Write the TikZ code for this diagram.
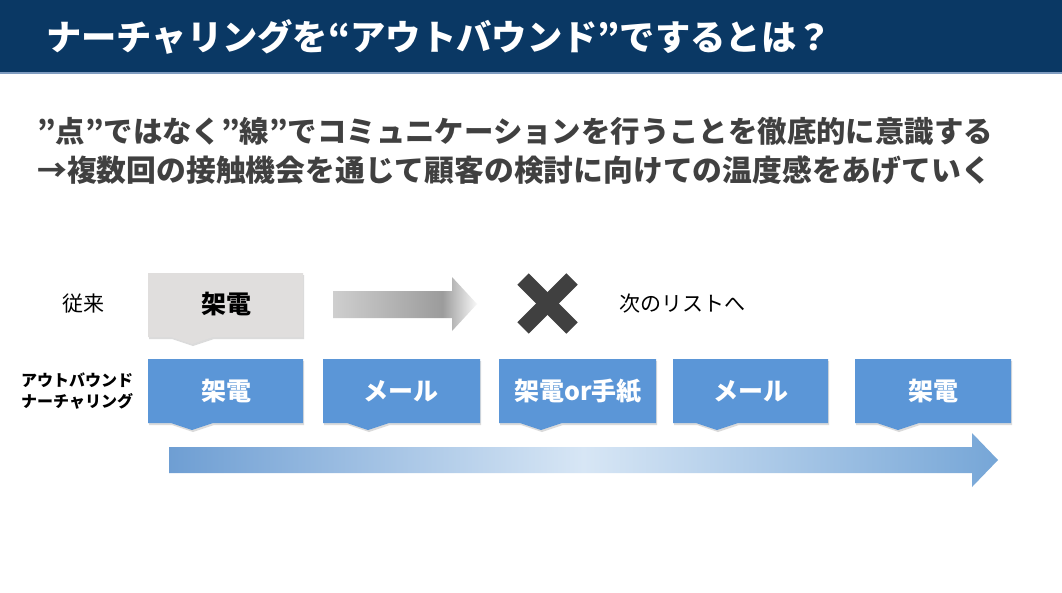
\documentclass[tikz,border=0pt]{standalone}
\usepackage{fontspec}
\setmainfont{Noto Sans CJK JP}
\usetikzlibrary{shadows}
\definecolor{navy}{HTML}{0A3864}
\definecolor{navyline}{HTML}{7F9CC0}
\definecolor{subgray}{HTML}{404040}
\definecolor{boxblue}{HTML}{5B96D7}
\definecolor{boxgray}{HTML}{E0DEDD}
\definecolor{xgray}{HTML}{404040}
\pgfdeclarehorizontalshading{grayarrowshade}{100bp}{color(0bp)=(gray!38); color(25bp)=(gray!38); color(63bp)=(gray!78); color(75bp)=(gray!5); color(100bp)=(gray!5)}
\definecolor{bA}{HTML}{6E9ED3}
\definecolor{bB}{HTML}{D7E6F5}
\definecolor{bC}{HTML}{76A6D7}
\pgfdeclarehorizontalshading{bluearrowshade}{100bp}{color(0bp)=(bA); color(25bp)=(bA); color(50bp)=(bB); color(75bp)=(bC); color(100bp)=(bC)}
\newcommand\notchbox[6]{\fill[#6] (#1,#3) -- (#2,#3) -- (#2,#4) -- (#5+21,#4) -- (#5,#4+7) -- (#5-21,#4) -- (#1,#4) -- cycle;}
\tikzset{
  boxshadow/.style={drop shadow={opacity=0.28,shadow xshift=1pt,shadow yshift=-2pt}},
  bluebox/.style={fill=boxblue,boxshadow},
  graybox/.style={fill=boxgray,boxshadow},
  boxtext/.style={text=white,font=\fontsize{25}{30}\selectfont\bfseries,inner sep=0pt},
  plain/.style={text=black,font=\fontsize{21}{25}\selectfont,inner sep=0pt},
}
\begin{document}
\begin{tikzpicture}[x=1pt,y=-1pt]
\useasboundingbox (0,0) rectangle (1062,592);
\fill[white] (0,0) rectangle (1062,592);
% header
\fill[navy] (0,0) rectangle (1062,72);
\fill[navyline] (0,72) rectangle (1062,73.5);
\node[anchor=west,text=white,inner sep=0pt,font=\fontsize{35.3}{40}\selectfont\bfseries] (title) at (46,37) {ナーチャリングを“アウトバウンド”でするとは？};
% subtitle
\node[anchor=west,text=subgray,inner sep=0pt,font=\fontsize{29.4}{36}\selectfont\bfseries] (sub1) at (37,131) {”点”ではなく”線”でコミュニケーションを行うことを徹底的に意識する};
\node[anchor=west,text=subgray,inner sep=0pt,font=\fontsize{29.8}{36}\selectfont\bfseries] (sub2) at (37,170) {→複数回の接触機会を通じて顧客の検討に向けての温度感をあげていく};
% row 1
\node[plain] (juurai) at (83,304) {従来};
\notchbox{148}{303}{273}{337}{192}{graybox}
\node[text=black,font=\fontsize{25}{30}\selectfont\bfseries,inner sep=0pt] (kaden0) at (226,304) {架電};
\shade[shading=grayarrowshade] (333,291) -- (452,291) -- (452,277) -- (477,304) -- (452,331) -- (452,318) -- (333,318) -- cycle;
\draw[xgray,line width=16pt] (523,279) -- (572,328);
\draw[xgray,line width=16pt] (572,279) -- (523,328);
\node[plain,anchor=west] (next) at (619,304) {次のリストへ};
% row 2
\node[text=black,inner sep=0pt,font=\fontsize{16}{21}\selectfont\bfseries,align=left,anchor=west] (label) at (21,391) {アウトバウンド\\ナーチャリング};
\notchbox{148}{303}{359}{423}{192}{bluebox}
\notchbox{323}{480}{359}{423}{368}{bluebox}
\notchbox{499}{656}{359}{423}{541}{bluebox}
\notchbox{673}{828}{359}{423}{717}{bluebox}
\notchbox{855}{1011}{359}{423}{898}{bluebox}
\node[boxtext] (b1) at (226,391) {架電};
\node[boxtext] (b2) at (401,391) {メール};
\node[boxtext] (b3) at (578,391) {架電or手紙};
\node[boxtext] (b4) at (751,391) {メール};
\node[boxtext] (b5) at (933,391) {架電};
% blue arrow
\shade[shading=bluearrowshade] (169,447) -- (972,447) -- (972,433) -- (998,460) -- (972,487) -- (972,473) -- (169,473) -- cycle;
\end{tikzpicture}
\end{document}
